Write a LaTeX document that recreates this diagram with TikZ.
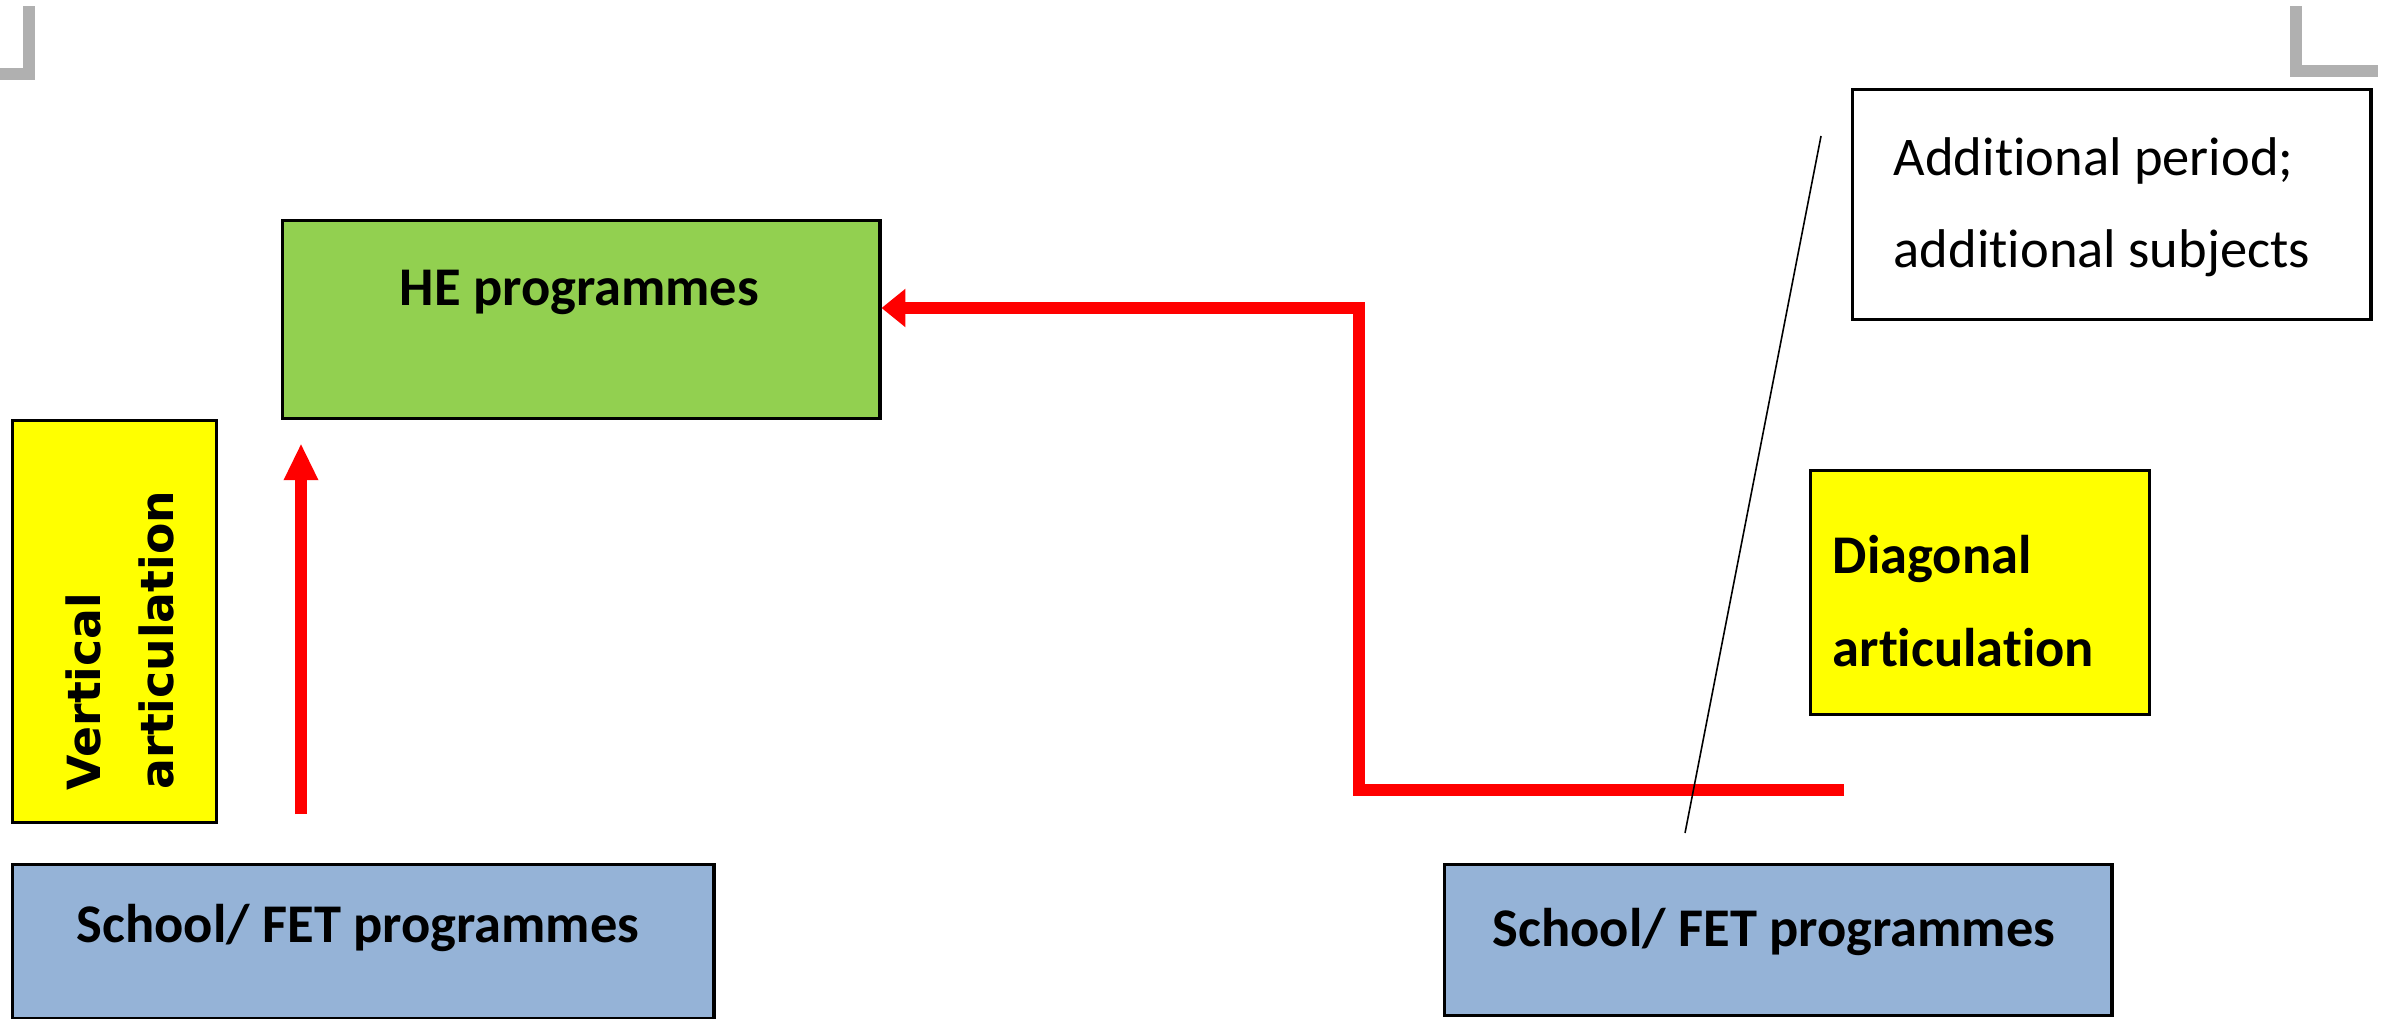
\documentclass[tikz,border=0pt]{standalone}
\usepackage{fontspec}
\setmainfont{Carlito}[Ligatures={NoCommon}]
\newfontfamily\dejavu{DejaVu Sans}
\usetikzlibrary{arrows.meta}
\definecolor{hegreen}{HTML}{92D050}
\definecolor{fetblue}{HTML}{95B3D7}
\definecolor{artyellow}{HTML}{FFFF00}
\definecolor{cornergray}{HTML}{B0B0B0}
\tikzset{
  boxstyle/.style={draw=black, line width=0.9pt, anchor=north west, inner sep=0pt},
  boldlabel/.style={font=\fontsize{15.5}{18}\selectfont\bfseries, inner sep=0pt},
  plainlabel/.style={font=\fontsize{15.5}{18}\selectfont, inner sep=0pt},
  vlabel/.style={font=\dejavu\fontsize{13}{16}\selectfont\bfseries, inner sep=0pt, rotate=90, anchor=base west},
  redline/.style={draw=red, line width=3.6pt},
  cornermark/.style={draw=cornergray, line width=3.4pt}
}
\begin{document}
\begin{tikzpicture}[x=0.01cm, y=-0.01cm]
\useasboundingbox (0,0) rectangle (2389,1018);
% corner marks
\draw[cornermark] (29,6) -- (29,74) -- (0,74);
\draw[cornermark] (2296,6) -- (2296,71) -- (2378,71);
% boxes
\node[boxstyle, fill=hegreen, minimum width=5.97cm, minimum height=1.98cm] (HE) at (281,219) {};
\node[boxstyle, fill=artyellow, minimum width=2.04cm, minimum height=4.02cm] (vbox) at (11,419) {};
\node[boxstyle, fill=fetblue, minimum width=7.01cm, minimum height=1.54cm] (lschool) at (11,863) {};
\node[boxstyle, fill=fetblue, minimum width=6.67cm, minimum height=1.51cm] (rschool) at (1443,863) {};
\node[boxstyle, fill=white, minimum width=5.18cm, minimum height=2.30cm] (addbox) at (1851,88) {};
\node[boxstyle, fill=artyellow, minimum width=3.39cm, minimum height=2.44cm] (dbox) at (1809,469) {};
% texts
\node[boldlabel, anchor=base] (HEtext) at (579.5,305) {HE programmes};
\node[boldlabel, anchor=base] (ltext) at (358,942) {School/ FET programmes};
\node[boldlabel, anchor=base] (rtext) at (1774,946) {School/ FET programmes};
\node[plainlabel, anchor=base west] (add1) at (1893,175) {Additional period;};
\node[plainlabel, anchor=base west] (add2) at (1893,267) {additional subjects};
\node[boldlabel, anchor=base west] (d1) at (1832,573) {Diagonal};
\node[boldlabel, anchor=base west] (d2) at (1832,666) {articulation};
\node[vlabel] (v1) at (100,791) {Vertical};
\node[vlabel] (v2) at (173,790) {articulation};
% connectors
\coordinate (vstart) at (301,814);
\draw[redline, line width=3.4pt, -{Triangle[length=10.5pt, width=9.1pt]}, shorten >=0.23cm] (vstart) -- (vstart |- HE.south);
\coordinate (dstart) at (1844,790);
\coordinate (bend) at (1359,308);
\draw[redline, -{Triangle[length=6.8pt, width=10.5pt]}] (dstart) -- (dstart -| bend) -- (bend) -- (bend -| HE.east);
\coordinate (ctop) at (1821,136);
\coordinate (cbot) at (1685,833);
\draw[black, line width=0.45pt] (ctop) -- (cbot);
\end{tikzpicture}
\end{document}
